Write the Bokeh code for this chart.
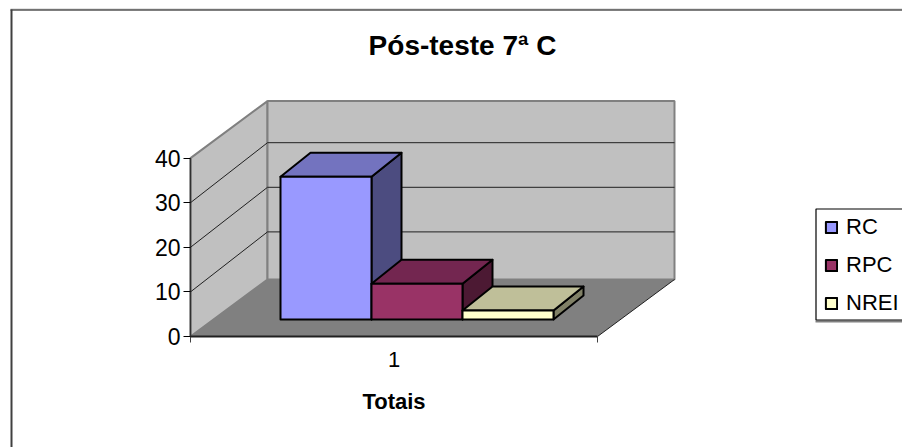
from bokeh.plotting import figure
from bokeh.embed import file_html
from bokeh.resources import INLINE
from bokeh.core.properties import value
from bokeh.models import (Range1d, LinearAxis, FixedTicker, Legend, LegendItem)

title = "Pós-teste 7ª C"
x_title = "Totais"
category_labels = ["1"]
series = ["RC", "RPC", "NREI"]
values = [32, 8, 2]
front_colors = ["#9999FF", "#993366", "#FFFFCC"]
top_colors = ["#7373BF", "#732650", "#BFBF99"]
side_colors = ["#4C4C80", "#4C1933", "#808066"]
y_ticks = [0, 10, 20, 30, 40]

W, H = 902, 447
PX = 4.46            # pixels per value unit
Y0 = 336             # image row of value 0
def u(px):           # a pixel distance as value units
    return px / PX
def row(py):         # an image row as a value
    return (Y0 - py) / PX

FL, FR = 190, 597    # front floor edge
DX, DY = 77, u(57)   # wall depth
BASE = u(17)         # bars stand this far up the floor
BAR_L = 280
BAR_W = 91
BDX, BDY = 30, u(24)
TOP = 40

p = figure(width=W, height=H, output_backend="svg", toolbar_location=None,
           x_range=Range1d(0, W), y_range=Range1d(row(H), row(0)),
           x_axis_type=None, y_axis_type=None, min_border=0, outline_line_color=None,
           background_fill_color="white", border_fill_color="white",
           margin=(0, 0, 0, 0))
p.grid.visible = False

# chart frame
p.segment(x0=[10], y0=[row(8.5)], x1=[W], y1=[row(8.5)], line_color="#C8C8C8", line_width=1)
p.segment(x0=[10], y0=[row(9.5)], x1=[W], y1=[row(9.5)], line_color="black", line_width=1)
p.segment(x0=[11], y0=[row(9)], x1=[11], y1=[row(H)], line_color="#404040", line_width=2)

# walls and floor
p.patch(x=[FL, FL + DX, FL + DX, FL], y=[TOP, TOP + DY, DY, 0],
        fill_color="#C0C0C0", line_color="#808080", line_width=2)
p.patch(x=[FL + DX, FR + DX, FR + DX, FL + DX], y=[TOP + DY, TOP + DY, DY, DY],
        fill_color="#C0C0C0", line_color="#808080", line_width=2)
p.patch(x=[FL, FL + DX, FR + DX, FR], y=[0, DY, DY, 0],
        fill_color="#808080", line_color=None)
p.line(x=[FR, FR + DX], y=[0, DY], line_color="#202020", line_width=1)

# grid lines on both walls
for t in y_ticks[1:-1]:
    p.line(x=[FL, FL + DX, FR + DX], y=[t, t + u(60), t + u(60)],
           line_color="#202020", line_width=1)

# bars
fronts = []
for i, v in enumerate(values):
    x0 = BAR_L + i * BAR_W
    x1 = x0 + BAR_W
    b, t = BASE, BASE + v
    p.patch(x=[x1, x1 + BDX, x1 + BDX, x1], y=[t, t + BDY, b + BDY, b],
            fill_color=side_colors[i], line_color="black", line_width=2, line_join="round")
    p.patch(x=[x0, x0 + BDX, x1 + BDX, x1], y=[t, t + BDY, t + BDY, t],
            fill_color=top_colors[i], line_color="black", line_width=2, line_join="round")
    fronts.append(p.patch(x=[x0, x1, x1, x0], y=[b, b, t, t],
                          fill_color=front_colors[i], line_color="black", line_width=2,
                          line_join="round"))

# title
p.text(x=[462], y=[row(45)], text=[title], text_font=value("Liberation Sans"),
       text_font_style="bold", text_font_size="28px", text_align="center",
       text_baseline="middle", text_color="black")

# axes on the front plane
yax = LinearAxis(fixed_location=FL, bounds=(0, 40), ticker=FixedTicker(ticks=y_ticks),
                 major_tick_in=0, major_tick_out=7, minor_tick_out=0, minor_tick_in=0,
                 axis_line_color="#303030", axis_line_width=1.5, major_tick_line_color="black",
                 major_label_text_font="Liberation Sans", major_label_text_font_size="23px",
                 major_label_text_color="black", major_label_standoff=3)
p.add_layout(yax, "left")

xax = LinearAxis(fixed_location=0, bounds=(FL, FR),
                 ticker=FixedTicker(ticks=[(FL + FR) / 2], minor_ticks=[FL, FR]),
                 major_label_overrides={(FL + FR) / 2: category_labels[0]},
                 major_tick_in=0, major_tick_out=0, minor_tick_in=0, minor_tick_out=6,
                 axis_line_color="#202020", axis_line_width=2, minor_tick_line_color="#404040",
                 major_label_text_font="Liberation Sans", major_label_text_font_size="22px",
                 major_label_text_color="black", major_label_standoff=9,
                 axis_label=x_title, axis_label_text_font="Liberation Sans",
                 axis_label_text_font_style="bold", axis_label_text_font_size="22px",
                 axis_label_text_color="black", axis_label_standoff=19)
p.add_layout(xax, "below")

# legend box, its shadow and the entries
p.segment(x0=[815], y0=[row(321)], x1=[W], y1=[row(321)], line_color="#808080", line_width=2)
p.quad(left=[815.5], right=[W + 5], top=[row(208.5)], bottom=[row(319.5)],
       fill_color="white", line_color="black", line_width=1.2)
legend = Legend(items=[LegendItem(label=s, renderers=[r]) for s, r in zip(series, fronts)],
                location=(824, H - 316), orientation="vertical", margin=0,
                padding=0, spacing=12, glyph_width=14, glyph_height=14, label_standoff=8,
                label_text_font="Liberation Sans", label_text_font_size="22px",
                label_text_color="black", border_line_color=None,
                background_fill_alpha=0)
p.add_layout(legend, "center")

open("out.html", "w").write(file_html(p, INLINE))
